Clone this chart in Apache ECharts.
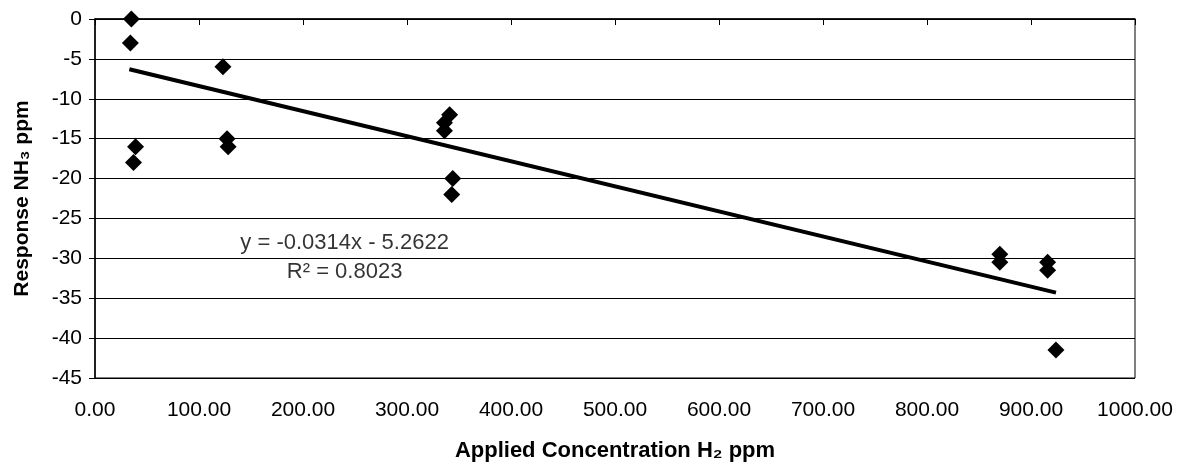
<!DOCTYPE html>
<html><head><meta charset="utf-8">
<script src="https://cdn.jsdelivr.net/npm/echarts@6/dist/echarts.min.js"></script>
<style>html,body{margin:0;padding:0;background:#fff}#c{width:1185px;height:471px}</style>
</head><body><div id="c"></div>
<script>
const concentrationH2 = [35, 34, 39, 37, 123, 127, 128, 336, 336, 341, 344, 343, 870, 870, 916, 916, 924];
const responseNH3 = [0, -3, -16, -18, -6, -15, -16, -14, -13, -12, -20, -22, -29.5, -30.5, -30.5, -31.5, -41.5];
// Linear trendline end points as drawn
const trendX = [33, 924];
const trendY = [-6.3, -34.3];
// Annotation
const equationText = 'y = -0.0314x - 5.2622';
const r2Text = 'R² = 0.8023';
const annotationAt = [240, -29.9];
// Axis texts
const xAxisTitle = 'Applied Concentration H₂ ppm';
const yAxisTitle = 'Response NH₃ ppm';

const FONT = '"Liberation Sans", Arial, sans-serif';
const points = concentrationH2.map((x, i) => [x, responseNH3[i]]);
const trend = trendX.map((x, i) => [x, trendY[i]]);

const chart = echarts.init(document.getElementById('c'), null, {renderer: 'canvas'});
chart.setOption({
  animation: false,
  backgroundColor: '#fff',
  grid: {left: 95, right: 50, top: 19, bottom: 93, show: true, borderColor: '#000', borderWidth: 1, containLabel: false},
  xAxis: {
    type: 'value', min: 0, max: 1000, interval: 100,
    name: xAxisTitle, nameLocation: 'middle', nameGap: 62,
    nameTextStyle: {fontFamily: FONT, fontSize: 22, fontWeight: 'bold', color: '#000'},
    axisLine: {show: true, lineStyle: {color: '#000', width: 1.5}},
    axisTick: {show: true, length: 6, lineStyle: {color: '#000'}},
    axisLabel: {formatter: v => v.toFixed(2), fontFamily: FONT, fontSize: 21, color: '#000', margin: 22},
    splitLine: {show: false}
  },
  yAxis: {
    type: 'value', min: -45, max: 0, interval: 5,
    name: yAxisTitle, nameLocation: 'middle', nameGap: 62, nameRotate: 90,
    nameTextStyle: {fontFamily: FONT, fontSize: 21, fontWeight: 'bold', color: '#000'},
    axisLine: {show: true, lineStyle: {color: '#000', width: 1.5}},
    axisTick: {show: true, length: 6, lineStyle: {color: '#000'}},
    axisLabel: {fontFamily: FONT, fontSize: 21, color: '#000', margin: 13},
    splitLine: {show: true, lineStyle: {color: '#000', width: 1}}
  },
  series: [
    {
      type: 'line', data: trend, symbol: 'none', silent: true,
      lineStyle: {color: '#000', width: 4}, z: 2
    },
    {
      type: 'scatter', data: points, symbol: 'diamond', symbolSize: 17,
      itemStyle: {color: '#000', opacity: 1}, z: 3
    },
    {
      type: 'scatter', data: [annotationAt], symbolSize: 0, silent: true,
      label: {
        show: true, position: 'inside', formatter: equationText + '\n' + r2Text,
        fontFamily: FONT, fontSize: 22, lineHeight: 29, color: '#000', align: 'center'
      }, z: 4
    }
  ]
});
</script></body></html>
